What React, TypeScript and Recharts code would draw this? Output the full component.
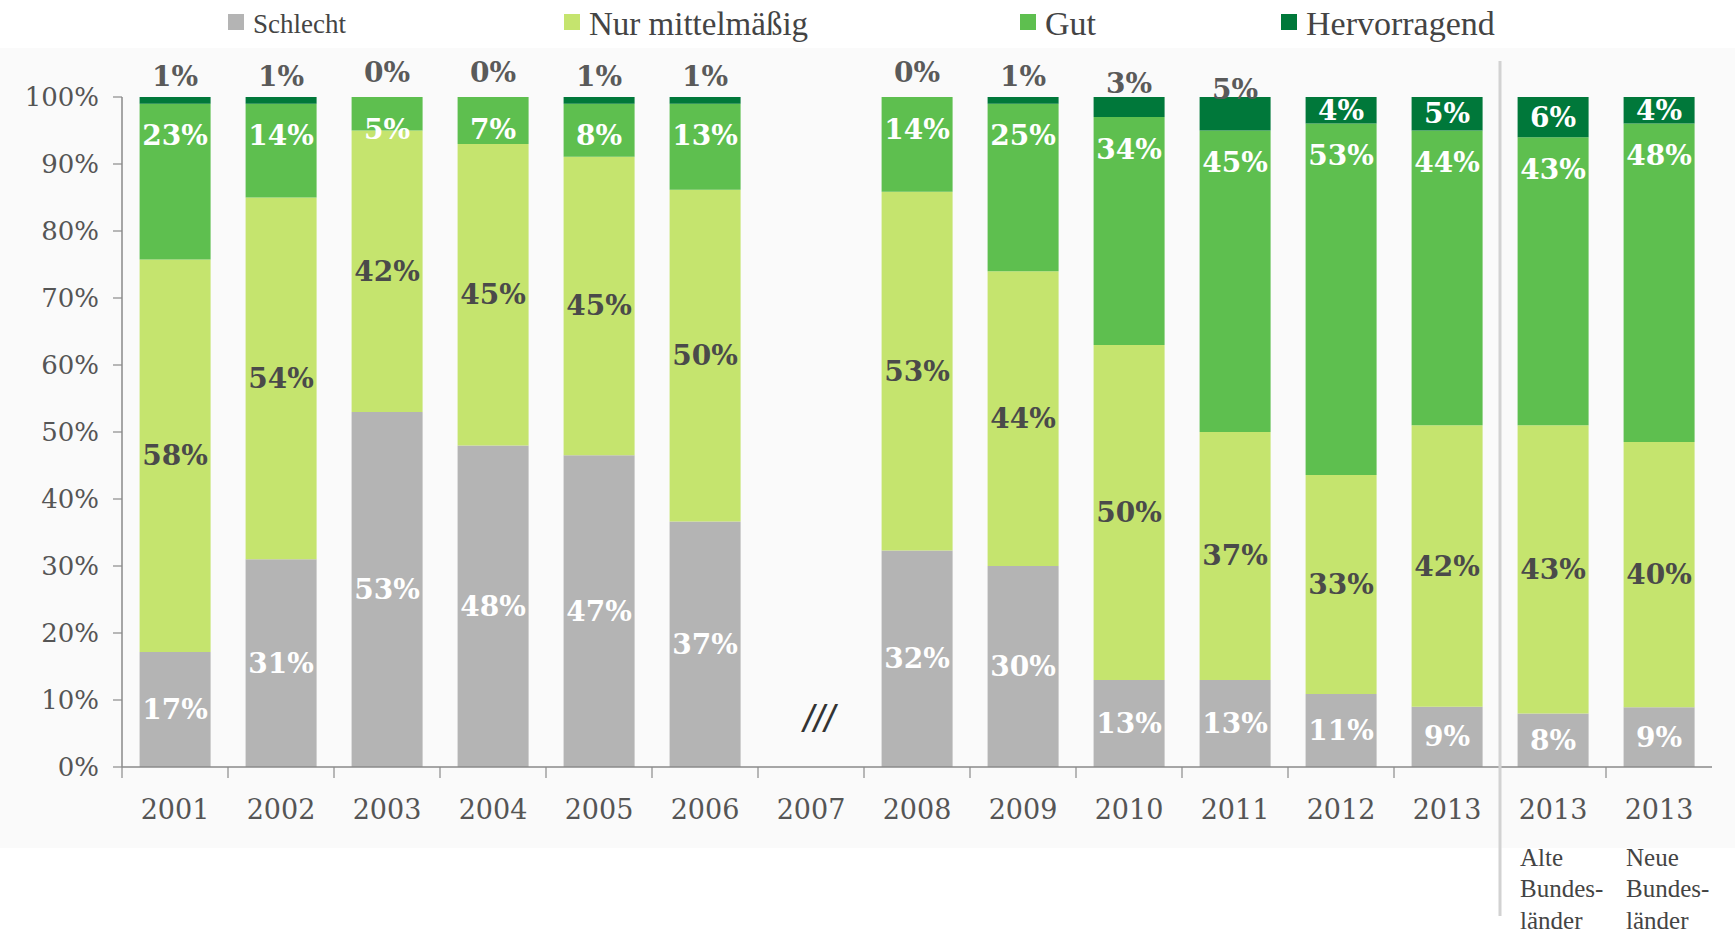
import { BarChart, Bar, XAxis, YAxis, Legend } from 'recharts'

document.body.style.margin = '0'

const categories = ['2001', '2002', '2003', '2004', '2005', '2006', '2007', '2008', '2009', '2010', '2011', '2012', '2013', '2013 alt', '2013 neu']
const tickLabels = ['2001', '2002', '2003', '2004', '2005', '2006', '2007', '2008', '2009', '2010', '2011', '2012', '2013', '2013', '2013']
const subLabels: (string[] | null)[] = [null, null, null, null, null, null, null, null, null, null, null, null, null,
  ['Alte', 'Bundes-', 'länder'], ['Neue', 'Bundes-', 'länder']]

const schlecht = [17, 31, 53, 48, 47, 37, null, 32, 30, 13, 13, 11, 9, 8, 9]
const mittel = [58, 54, 42, 45, 45, 50, null, 53, 44, 50, 37, 33, 42, 43, 40]
const gut = [23, 14, 5, 7, 8, 13, null, 14, 25, 34, 45, 53, 44, 43, 48]
const hervorragend = [1, 1, 0, 0, 1, 1, null, 0, 1, 3, 5, 4, 5, 6, 4]

const yTicks = [0, 0.1, 0.2, 0.3, 0.4, 0.5, 0.6, 0.7, 0.8, 0.9, 1]

const series = [
  { key: 'schlecht', name: 'Schlecht', color: '#b4b4b4', values: schlecht },
  { key: 'mittel', name: 'Nur mittelmäßig', color: '#c5e46e', values: mittel },
  { key: 'gut', name: 'Gut', color: '#5ebf4f', values: gut },
  { key: 'hervorragend', name: 'Hervorragend', color: '#00783a', values: hervorragend },
]

const data = categories.map((c, i) => ({
  cat: c,
  schlecht: schlecht[i] ?? 0,
  mittel: mittel[i] ?? 0,
  gut: gut[i] ?? 0,
  hervorragend: hervorragend[i] ?? 0,
}))

// layout
const W = 1735
const H = 932
const MARGIN = { top: 97, right: 23, left: 12, bottom: 0 }
const Y_AXIS_W = 110
const PLOT_LEFT = MARGIN.left + Y_AXIS_W
const BAND = (W - MARGIN.left - MARGIN.right - Y_AXIS_W) / categories.length
const SERIF = '"DejaVu Serif", serif'
const LEGEND_POS = [
  { x: 228, size: 27 },
  { x: 564, size: 33 },
  { x: 1020, size: 34 },
  { x: 1281, size: 34 },
]

const makeLabel = (key: string, values: (number | null)[]) => (props: any) => {
  const { x, y, width, height } = props
  // category from the bar's position, labels of empty rects may be skipped
  const i = Math.floor((x + width / 2 - PLOT_LEFT) / BAND)
  const v = values[i]
  if (v == null) return null
  const top = height < 0 ? y + height : y
  const h = Math.abs(height)
  const cx = x + width / 2
  let cy = top + h / 2
  let fill = '#ffffff'
  if (key === 'mittel') fill = '#4a4a4a'
  if (key === 'gut') cy = top + 32
  if (key === 'hervorragend' && i < 11) {
    cy = top + h / 2 - 24
    fill = '#5a5a5a'
  }
  return (
    <text x={cx} y={cy} textAnchor="middle" dominantBaseline="central"
      fontFamily={SERIF} fontWeight="bold" fontSize={28} fill={fill}>
      {v}%
    </text>
  )
}

const XTick = (props: any) => {
  const { x, y, payload } = props
  const i = payload.index
  const left = x - BAND / 2
  const sub = subLabels[i]
  return (
    <g>
      <line x1={left} x2={left} y1={y} y2={y + 11} stroke="#8a8a8a" strokeWidth={1.2} />
      {i === 13 && <line x1={left} x2={left} y1={61} y2={916} stroke="#d2d2d2" strokeWidth={3} />}
      {tickLabels[i] === '2007' && (
        <text x={x + 8} y={y - 48} textAnchor="middle" dominantBaseline="central"
          fontFamily='"Liberation Sans", sans-serif' fontStyle="italic" fontSize={38} fill="#333">
          ///
        </text>
      )}
      <text x={x} y={y + 42} textAnchor="middle" dominantBaseline="central"
        fontFamily={SERIF} fontSize={27} fill="#555">
        {tickLabels[i]}
      </text>
      {sub && sub.map((s, k) => (
        <text key={k} x={x - 33} y={y + 90 + k * 31.5} dominantBaseline="central"
          fontFamily='"Liberation Serif", serif' fontSize={25} fill="#444">
          {s}
        </text>
      ))}
    </g>
  )
}

const renderLegend = () => (
  <div style={{ position: 'relative', width: W, height: 48 }}>
    {series.map((s, i) => (
      <div key={s.key} style={{ position: 'absolute', left: LEGEND_POS[i].x, top: 0, height: 48, display: 'flex', alignItems: 'center' }}>
        <span style={{ display: 'inline-block', width: 16, height: 16, background: s.color, marginRight: 9, marginTop: -4 }} />
        <span style={{ fontFamily: '"Liberation Serif", serif', fontSize: LEGEND_POS[i].size, color: '#444', lineHeight: 1 }}>
          {s.name}
        </span>
      </div>
    ))}
  </div>
)

export default function App() {
  return (
    <div style={{ position: 'relative', width: W, height: H, background: '#fff' }}>
      <div style={{ position: 'absolute', left: 0, top: 48, width: W, height: 800, background: '#fafafa' }} />
      <div style={{ position: 'relative' }}>
        <BarChart width={W} height={H} data={data} stackOffset="expand" margin={MARGIN} barCategoryGap="16.6%">
          <XAxis
            dataKey="cat"
            interval={0}
            height={165}
            tickSize={0}
            tickMargin={0}
            tickLine={false}
            axisLine={{ stroke: '#8a8a8a', strokeWidth: 1.5 }}
            tick={<XTick />}
          />
          <YAxis
            width={Y_AXIS_W}
            domain={[0, 1]}
            ticks={yTicks}
            tickFormatter={(v: number) => `${Math.round(v * 100)}%`}
            tickSize={9}
            tickMargin={14}
            axisLine={{ stroke: '#8a8a8a', strokeWidth: 1.5 }}
            tickLine={{ stroke: '#8a8a8a', strokeWidth: 1.2 }}
            tick={{ fontFamily: SERIF, fontSize: 26, fill: '#555' }}
          />
          <Legend
            layout="vertical"
            align="center"
            verticalAlign="middle"
            content={renderLegend}
            wrapperStyle={{ top: 0, left: 0, width: W, height: 48 }}
          />
          {series.map(s => (
            <Bar
              key={s.key}
              dataKey={s.key}
              name={s.name}
              stackId="a"
              fill={s.color}
              minPointSize={0.01}
              isAnimationActive={false}
              label={makeLabel(s.key, s.values)}
            />
          ))}
        </BarChart>
      </div>
    </div>
  )
}
